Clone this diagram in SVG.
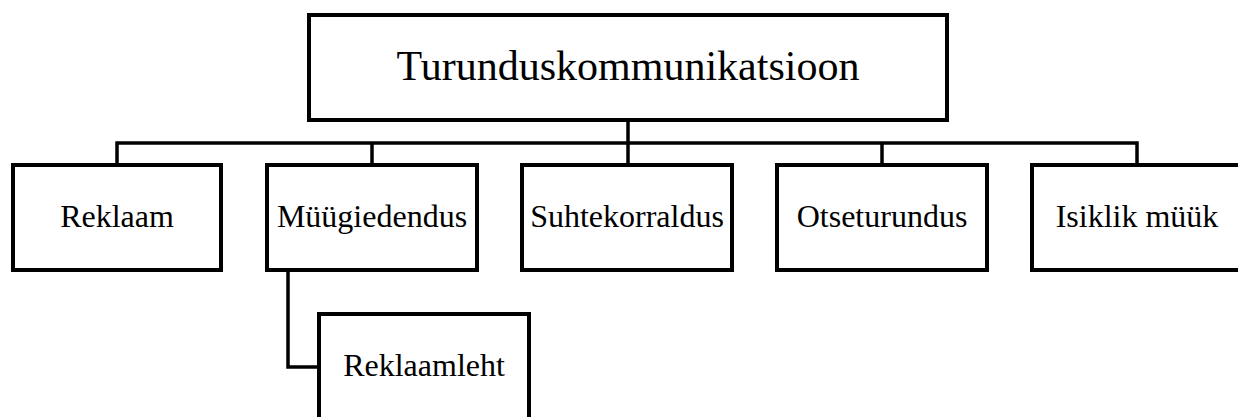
<svg xmlns="http://www.w3.org/2000/svg" width="1238" height="417" viewBox="0 0 1238 417">
<style>
.box{fill:#fff;stroke:#000;stroke-width:4}
.ln{fill:none;stroke:#000;stroke-width:3.5}
.t{font-family:"Liberation Serif","Times New Roman",serif;font-size:32px;fill:#000;text-anchor:middle}
.tt{font-size:42px}
</style>
<rect width="1238" height="417" fill="#fff"/>
<g id="connectors">
<path class="ln" d="M628 120V143M117 165V143H1137V165M372 143V165M628 143V165M882 143V165"/>
<path class="ln" d="M288 270V367H319"/>
</g>
<g id="n-top"><rect class="box" x="309" y="15" width="638" height="105"/><text class="t tt" x="628" y="80">Turunduskommunikatsioon</text></g>
<g id="n-reklaam"><rect class="box" x="13" y="165" width="208" height="105"/><text class="t" x="117" y="227">Reklaam</text></g>
<g id="n-myygi"><rect class="box" x="267" y="165" width="210" height="105"/><text class="t" x="372" y="227">Müügiedendus</text></g>
<g id="n-suhte"><rect class="box" x="522" y="165" width="210" height="105"/><text class="t" x="627" y="227">Suhtekorraldus</text></g>
<g id="n-otse"><rect class="box" x="777" y="165" width="210" height="105"/><text class="t" x="882" y="227">Otseturundus</text></g>
<g id="n-isiklik"><rect class="box" x="1032" y="165" width="210" height="105"/><text class="t" x="1137" y="227">Isiklik müük</text></g>
<g id="n-leht"><rect class="box" x="319" y="314" width="210" height="110"/><text class="t" x="424" y="376">Reklaamleht</text></g>
</svg>
